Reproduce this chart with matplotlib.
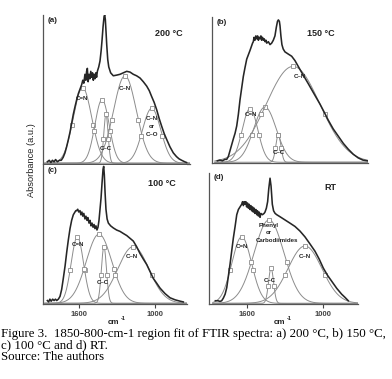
import matplotlib
matplotlib.use("Agg")
import matplotlib.pyplot as plt
import numpy as np

W, H = 392, 379

# ---- total spectra (wavenumber cm-1, absorbance a.u.) ----
a_wn = [1850, 1835, 1822, 1810, 1797, 1785, 1770, 1755, 1740, 1725, 1711, 1698, 1684, 1671,
        1658, 1645, 1632, 1618, 1605, 1592, 1579, 1570, 1562, 1553, 1546, 1540, 1534, 1528,
        1521, 1514, 1507, 1500, 1493, 1487, 1480, 1474, 1467, 1461, 1455, 1444, 1434, 1425,
        1418, 1410, 1402, 1397, 1392, 1386, 1381, 1373, 1365, 1350, 1329, 1300, 1276, 1250,
        1223, 1197, 1171, 1145, 1118, 1092, 1065, 1045, 1026, 1006, 986, 966, 947, 927, 907,
        881, 855, 830, 810, 789, 765, 750]
a_abs = [0.01, 0.02, 0.005, 0.02, 0.01, 0.025, 0.01, 0.02, 0.02, 0.04, 0.07, 0.11, 0.16, 0.21,
         0.27, 0.33, 0.38, 0.43, 0.47, 0.50, 0.53, 0.56, 0.54, 0.60, 0.56, 0.62, 0.64, 0.55,
         0.60, 0.57, 0.62, 0.58, 0.61, 0.56, 0.60, 0.57, 0.61, 0.58, 0.62, 0.65, 0.69, 0.76,
         0.83, 0.92, 0.99, 1.0, 0.97, 0.88, 0.80, 0.70, 0.65, 0.61, 0.59, 0.595, 0.60, 0.61,
         0.62, 0.615, 0.60, 0.59, 0.575, 0.55, 0.52, 0.49, 0.45, 0.41, 0.36, 0.30, 0.25, 0.20,
         0.16, 0.11, 0.07, 0.045, 0.03, 0.02, 0.01, 0.005]

b_wn = [1850, 1830, 1810, 1790, 1776, 1763, 1750, 1737, 1724, 1710, 1697, 1684, 1671, 1658,
        1645, 1632, 1618, 1605, 1592, 1580, 1572, 1566, 1560, 1553, 1546, 1539, 1532, 1526,
        1519, 1512, 1506, 1500, 1493, 1486, 1480, 1473, 1466, 1460, 1447, 1434, 1421, 1408,
        1395, 1384, 1375, 1368, 1360, 1355, 1348, 1340, 1330, 1316, 1290, 1263, 1237, 1211,
        1185, 1158, 1131, 1105, 1072, 1039, 1006, 974, 935, 895, 855, 816, 776, 737, 700, 665]
b_abs = [0.01, 0.015, 0.01, 0.02, 0.02, 0.04, 0.08, 0.12, 0.16, 0.20, 0.25, 0.33, 0.43, 0.51,
         0.59, 0.65, 0.71, 0.74, 0.77, 0.80, 0.82, 0.83, 0.86, 0.84, 0.87, 0.85, 0.87, 0.84,
         0.86, 0.85, 0.87, 0.84, 0.86, 0.84, 0.85, 0.83, 0.84, 0.82, 0.83, 0.81, 0.82, 0.84,
         0.87, 0.93, 0.97, 0.98, 0.97, 0.94, 0.87, 0.81, 0.78, 0.76, 0.745, 0.73, 0.70, 0.66,
         0.62, 0.58, 0.54, 0.50, 0.45, 0.40, 0.345, 0.29, 0.23, 0.18, 0.13, 0.09, 0.055, 0.03,
         0.015, 0.01]

c_wn = [1850, 1840, 1830, 1820, 1808, 1797, 1786, 1776, 1763, 1750, 1737, 1724, 1710, 1697,
        1684, 1671, 1658, 1645, 1632, 1625, 1618, 1610, 1602, 1592, 1585, 1577, 1570, 1562,
        1553, 1545, 1537, 1530, 1521, 1513, 1505, 1497, 1489, 1481, 1474, 1466, 1458, 1450,
        1442, 1434, 1426, 1418, 1410, 1405, 1400, 1394, 1387, 1378, 1368, 1350, 1329, 1303,
        1276, 1250, 1223, 1197, 1171, 1145, 1118, 1092, 1065, 1039, 1013, 986, 960, 920, 881,
        840, 800, 776]
c_abs = [0.02, 0.01, 0.03, 0.015, 0.03, 0.02, 0.03, 0.02, 0.03, 0.05, 0.10, 0.18, 0.27, 0.37,
         0.46, 0.54, 0.60, 0.64, 0.66, 0.67, 0.67, 0.68, 0.66, 0.67, 0.64, 0.66, 0.63, 0.65,
         0.61, 0.63, 0.60, 0.62, 0.58, 0.60, 0.56, 0.58, 0.55, 0.57, 0.54, 0.56, 0.53, 0.55,
         0.60, 0.68, 0.76, 0.87, 0.97, 0.99, 0.93, 0.80, 0.68, 0.61, 0.58, 0.56, 0.545, 0.53,
         0.52, 0.505, 0.49, 0.47, 0.45, 0.41, 0.36, 0.32, 0.28, 0.23, 0.18, 0.145, 0.11, 0.07,
         0.04, 0.025, 0.015, 0.01]

d_wn = [1850, 1830, 1813, 1800, 1787, 1773, 1760, 1747, 1734, 1721, 1708, 1694, 1681, 1668,
        1655, 1642, 1635, 1629, 1622, 1616, 1609, 1603, 1596, 1589, 1583, 1576, 1570, 1563,
        1556, 1550, 1543, 1537, 1530, 1523, 1517, 1510, 1504, 1497, 1490, 1478, 1465, 1458,
        1447, 1437, 1428, 1418, 1410, 1400, 1390, 1378, 1365, 1340, 1300, 1260, 1221, 1182,
        1142, 1102, 1063, 1030, 997, 964, 931, 891, 852, 825, 800]
d_abs = [0.02, 0.02, 0.015, 0.02, 0.04, 0.07, 0.12, 0.21, 0.30, 0.40, 0.50, 0.59, 0.68, 0.72,
         0.74, 0.76, 0.78, 0.75, 0.78, 0.76, 0.78, 0.74, 0.77, 0.73, 0.76, 0.72, 0.75, 0.71,
         0.74, 0.70, 0.73, 0.69, 0.72, 0.68, 0.71, 0.67, 0.70, 0.66, 0.69, 0.68, 0.69, 0.70,
         0.73, 0.78, 0.88, 0.96, 0.90, 0.76, 0.71, 0.69, 0.68, 0.665, 0.64, 0.615, 0.59, 0.555,
         0.51, 0.455, 0.40, 0.34, 0.27, 0.215, 0.17, 0.115, 0.07, 0.045, 0.02]

# ---- fitted gaussian bands: centre (cm-1), height, FWHM (cm-1) ----
a_center = [1572, 1418, 1387, 1237, 1026]
a_height = [0.51, 0.43, 0.33, 0.59, 0.37]
a_fwhm = [171, 132, 40, 211, 171]

b_center = [1592, 1474, 1368, 1252]
b_height = [0.37, 0.38, 0.19, 0.66]
b_fwhm = [145, 210, 47, 500]

c_center = [1613, 1442, 1403, 1171]
c_height = [0.48, 0.50, 0.41, 0.41]
c_fwhm = [115, 237, 47, 290]

d_center = [1642, 1426, 1410, 1142]
d_height = [0.51, 0.64, 0.27, 0.44]
d_fwhm = [184, 277, 47, 316]

# band labels: text, x px, y px
a_labels = [("C=N", 82, 99), ("C\u2013N", 125, 89), ("C\u2013N", 152, 118), ("or", 152, 127),
            ("C\u2013O", 152, 135), ("C\u2013C", 106, 149)]
b_labels = [("C\u2013N", 300, 77), ("C=N", 251, 115), ("C\u2013C", 279, 153)]
c_labels = [("C=N", 78, 244), ("C\u2013N", 132, 257), ("C\u2013C", 103, 283)]
d_labels = [("Phenyl", 269, 225), ("or", 269, 232), ("Carbodiimides", 277, 240),
            ("C=N", 242, 247), ("C\u2013N", 305, 257), ("C\u2013C", 270, 280)]

panels = [
    # tag, temp, box (l, r, t, b px), px of 1600 tick, data
    ("(a)", "200 \u00b0C", (43, 190, 15, 164), 79, a_wn, a_abs, a_center, a_height, a_fwhm, a_labels, (169, 33), False),
    ("(b)", "150 \u00b0C", (212, 368, 17, 163), 249, b_wn, b_abs, b_center, b_height, b_fwhm, b_labels, (321, 33), False),
    ("(c)", "100 \u00b0C", (43, 187, 165, 304), 79, c_wn, c_abs, c_center, c_height, c_fwhm, c_labels, (162, 184), True),
    ("(d)", "RT", (209, 358, 173, 304), 247, d_wn, d_abs, d_center, d_height, d_fwhm, d_labels, (330, 188), True),
]

SCALE = 7.9  # cm-1 per pixel
DARK = "#262626"
GREY = "#8c8c8c"


def fx(x):
    return x / W


def fy(y):
    return 1 - y / H


fig = plt.figure(figsize=(W / 100, H / 100), dpi=100)
fig.patch.set_facecolor("white")

wn = np.linspace(1870, 640, 500)

for tag, temp, (l, r, t, b), x1600, twn, tabs, cen, hei, fw, labels, tpos, ticks in panels:
    ax = fig.add_axes([fx(l), fy(b), (r - l) / W, (b - t) / H])
    ax.set_xlim(1600 + (x1600 - l) * SCALE, 1600 - (r - x1600) * SCALE)
    ax.set_ylim(-0.005, 1.0)

    for c0, h0, w0 in zip(cen, hei, fw):
        sig = w0 / 2.3548
        band = h0 * np.exp(-0.5 * ((wn - c0) / sig) ** 2)
        ax.plot(wn, band, color=GREY, lw=0.7)
        hw = w0 / 2
        mx = [c0 - hw, c0, c0 + hw]
        my = [h0 * np.exp(-0.5 * ((m - c0) / sig) ** 2) for m in mx]
        ax.plot(mx, my, ls="none", marker="s", ms=2.8, mfc="white", mec=GREY, mew=0.6)

    ax.plot(twn, tabs, color=DARK, lw=1.15)

    for s in ["top", "right"]:
        ax.spines[s].set_visible(False)
    for s in ["left", "bottom"]:
        ax.spines[s].set_color("#555555")
        ax.spines[s].set_linewidth(0.9)
    ax.set_yticks([])
    if ticks:
        ax.set_xticks([1600, 1000])
        ax.set_xticklabels(["1600", "1000"], fontsize=5.5, fontweight="bold",
                           family="Liberation Sans", color="#333333")
        ax.tick_params(axis="x", direction="out", length=3, width=0.8, pad=2, colors="#444444")
    else:
        ax.set_xticks([])

    fig.text(fx(l + 5), fy(t + 5), tag, fontsize=5.8, fontweight="bold",
             family="Liberation Sans", ha="left", va="center", color="#222222")
    fig.text(fx(tpos[0]), fy(tpos[1]), temp, fontsize=6.5, fontweight="bold",
             family="Liberation Sans", ha="center", va="center", color="#222222")
    for txt, x, y in labels:
        fig.text(fx(x), fy(y), txt, fontsize=4.4, fontweight="bold",
                 family="Liberation Sans", ha="center", va="center", color="#222222")

# axis labels
fig.text(fx(32), fy(160), "Absorbance (a.u.)", rotation=90, fontsize=6.7,
         family="Liberation Sans", ha="center", va="center", color="#222222")
for xc in [113, 279]:
    fig.text(fx(xc), fy(323), "cm", fontsize=5.8, fontweight="bold",
             family="Liberation Sans", ha="center", va="center", color="#222222")
    fig.text(fx(xc + 8), fy(319), "-1", fontsize=4.0, fontweight="bold",
             family="Liberation Sans", ha="left", va="center", color="#222222")

# caption
cap = ["Figure 3.  1850-800-cm-1 region fit of FTIR spectra: a) 200 \u00b0C, b) 150 \u00b0C,",
       "c) 100 \u00b0C and d) RT.",
       "Source: The authors"]
for i, line in enumerate(cap):
    fig.text(fx(1), fy(334 + i * 11.5), line, fontsize=9.3, family="Liberation Serif",
             ha="left", va="center", color="black")

plt.savefig("out.png", dpi=100)
plt.close()
